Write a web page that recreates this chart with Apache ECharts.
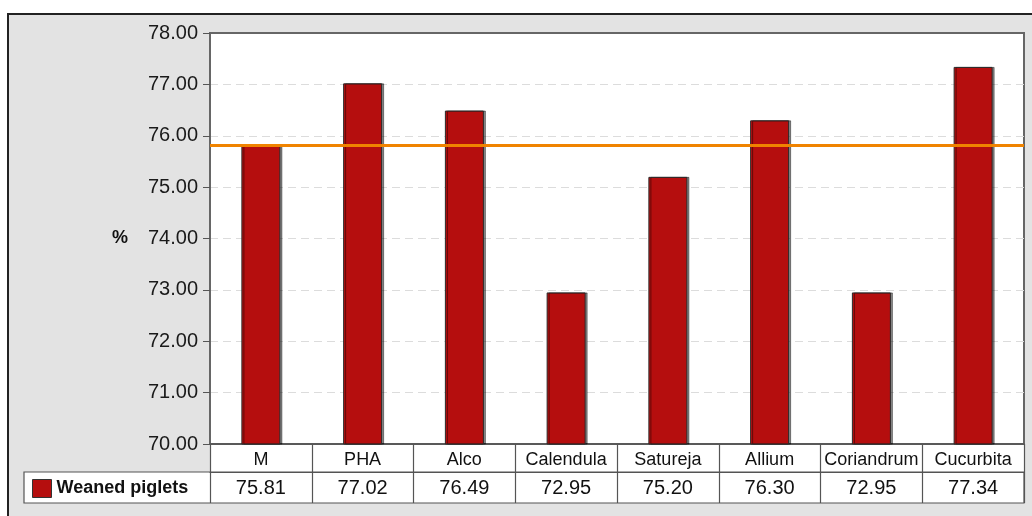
<!DOCTYPE html>
<html>
<head>
<meta charset="utf-8">
<script src="https://cdn.jsdelivr.net/npm/echarts@6/dist/echarts.min.js"></script>
<style>
  html, body { margin: 0; padding: 0; background: #ffffff; }
  #frame { position: absolute; left: 7px; top: 13px; width: 1040px; height: 520px;
           background: #e3e3e3; border-top: 2px solid #222; border-left: 2px solid #222; box-sizing: border-box; }
  #chart { position: absolute; left: 0; top: 0; width: 1032px; height: 516px; }
</style>
</head>
<body>
<div id="frame"></div>
<div id="chart"></div>
<script>
// Weaned piglets (%) per treatment group
const categories = ['M', 'PHA', 'Alco', 'Calendula', 'Satureja', 'Allium', 'Coriandrum', 'Cucurbita'];
const weanedPiglets = [75.81, 77.02, 76.49, 72.95, 75.20, 76.30, 72.95, 77.34];
const seriesName = 'Weaned piglets';
// control-group level drawn as a horizontal reference line
const referenceLevel = weanedPiglets[0];
const yTicks = { min: 70, max: 78, step: 1 };

// grid geometry (pixels)
const G = { left: 210, top: 33, right: 8, bottom: 72 };
const W = 1032, H = 516;
const catRowH = 28, valRowH = 31, tableLeft = 24;
const plotBottom = H - G.bottom;
const plotRight = W - G.right;

const chart = echarts.init(document.getElementById('chart'), null, { renderer: 'canvas' });
const font = 'Liberation Sans, Arial, sans-serif';

chart.setOption({
  backgroundColor: 'transparent',
  animation: false,
  textStyle: { fontFamily: font },
  grid: {
    left: G.left, top: G.top, right: G.right, bottom: G.bottom,
    show: true, backgroundColor: '#ffffff', borderColor: '#666', borderWidth: 2
  },
  legend: {
    left: 32, top: plotBottom + catRowH + 7, padding: 0,
    icon: 'rect', itemWidth: 19, itemHeight: 18, itemGap: 6,
    textStyle: { fontFamily: font, fontSize: 18, fontWeight: 'bold', color: '#111' },
    itemStyle: { borderColor: '#333', borderWidth: 1 },
    data: [seriesName]
  },
  xAxis: [
    {
      type: 'category', data: categories, position: 'bottom',
      axisLine: { show: true, lineStyle: { color: '#555', width: 1.5 } },
      axisTick: { show: true, length: catRowH, lineStyle: { color: '#555', width: 1.2 } },
      axisLabel: { fontSize: 18, color: '#111', margin: 7, interval: 0 },
      splitLine: { show: false }
    },
    {
      type: 'category', data: categories, position: 'bottom', offset: catRowH,
      axisLine: { show: true, lineStyle: { color: '#555', width: 1.2 } },
      axisTick: { show: true, length: valRowH, lineStyle: { color: '#555', width: 1.2 } },
      axisLabel: {
        fontSize: 20, color: '#111', margin: 6, interval: 0,
        formatter: (v, i) => weanedPiglets[i].toFixed(2)
      },
      splitLine: { show: false }
    }
  ],
  yAxis: {
    type: 'value', min: yTicks.min, max: yTicks.max, interval: yTicks.step,
    name: '%', nameLocation: 'middle', nameGap: 82, nameRotate: 0,
    nameTextStyle: { fontSize: 18, fontWeight: 'bold', color: '#111' },
    axisLine: { show: true, lineStyle: { color: '#666', width: 2 } },
    axisTick: { show: true, length: 7, lineStyle: { color: '#555' } },
    axisLabel: { fontSize: 20, color: '#1a1a1a', margin: 12, formatter: v => v.toFixed(2) },
    splitLine: {
      show: true, showMinLine: false, showMaxLine: false,
      lineStyle: { color: '#dcdcdc', type: [8, 5], width: 1.2 }
    }
  },
  series: [{
    name: seriesName, type: 'bar', data: weanedPiglets, barWidth: 39,
    itemStyle: {
      color: '#b50e0e', borderColor: '#2a2a2a', borderWidth: 1,
      shadowColor: 'rgba(0,0,0,0.45)', shadowOffsetX: 2, shadowOffsetY: 0, shadowBlur: 0
    },
    markLine: {
      silent: true, symbol: 'none', label: { show: false },
      lineStyle: { color: '#f08300', width: 3, type: 'solid' },
      data: [{ yAxis: referenceLevel }]
    }
  }],
  graphic: [
    // white table cells under the axis labels
    {
      type: 'rect', z: -10, silent: true,
      shape: { x: G.left, y: plotBottom, width: plotRight - G.left, height: catRowH },
      style: { fill: '#ffffff' }
    },
    {
      type: 'rect', z: -10, silent: true,
      shape: { x: tableLeft, y: plotBottom + catRowH, width: plotRight - tableLeft, height: valRowH },
      style: { fill: '#ffffff' }
    },
    {
      type: 'rect', z: 100, silent: true,
      shape: { x: tableLeft, y: plotBottom + catRowH, width: plotRight - tableLeft, height: valRowH },
      style: { fill: 'none', stroke: '#555', lineWidth: 1.2 }
    }
  ]
});
</script>
</body>
</html>
